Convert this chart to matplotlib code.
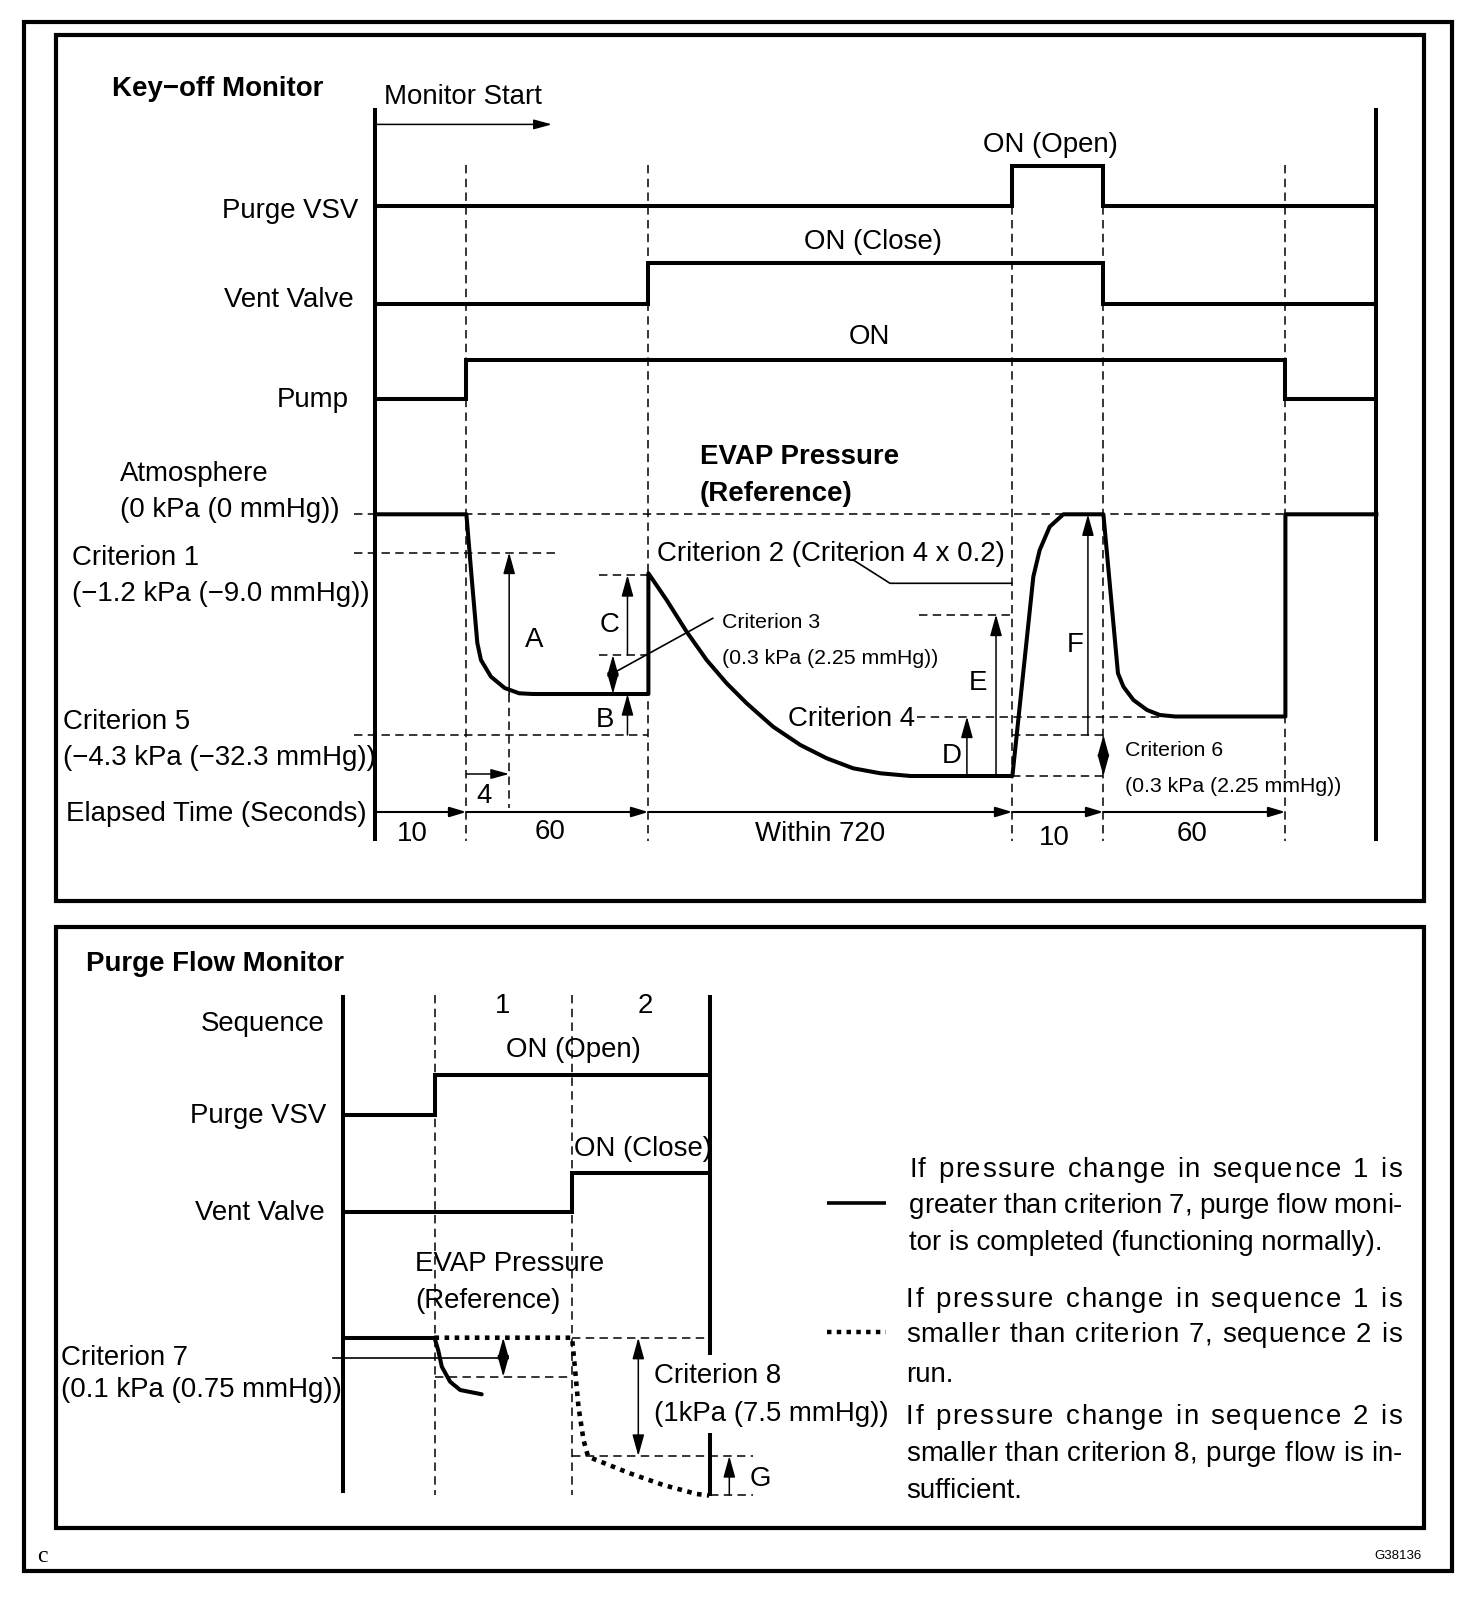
import matplotlib
matplotlib.use("Agg")
import matplotlib.pyplot as plt
from matplotlib.patches import Rectangle

plt.rcParams['font.family'] = ['Liberation Sans', 'DejaVu Sans']

W, H = 1472, 1600
FS = 19.9        # main label size (pt)
FS_SMALL = 15.3  # criterion 3 / 6 notes
THICK = 2.9      # signal / trace width (pt)
THIN = 1.1
DASH = (0, (5.5, 3.5))
DY = 3           # baseline nudge for centred labels

# ---------------- Key-off monitor (schematic time units, level units) ----------------
ko_grid = [1, 3, 7, 8, 10]
ko_span_labels = ["10", "60", "Within 720", "10", "60"]

purge_vsv_t = [0, 7, 7, 8, 8, 11]
purge_vsv_on = [0, 0, 1, 1, 0, 0]
vent_t = [0, 3, 3, 8, 8, 11]
vent_on = [0, 0, 1, 1, 0, 0]
pump_t = [0, 1, 1, 10, 10, 11]
pump_on = [0, 0, 1, 1, 0, 0]

press_t = [0, 1.0, 1.06, 1.12, 1.16, 1.27, 1.42, 1.58, 1.73, 3.0, 3.0,
           3.2, 3.42, 3.64, 3.86, 4.08, 4.37, 4.67, 4.96, 5.25, 5.55, 5.88,
           7.0, 7.23, 7.3, 7.41, 7.56, 8.0, 8.16, 8.22, 8.33, 8.48, 8.62, 8.79,
           10.0, 10.0, 11.0]
press_lv = [0, 0, -6.57, -12.87, -14.57, -16.24, -17.37, -17.9, -17.97, -17.97, -5.9,
            -8.57, -11.74, -14.57, -16.9, -18.9, -21.24, -23.07, -24.4, -25.4, -25.9, -26.17,
            -26.17, -6.24, -3.57, -1.24, 0, 0, -15.9, -17.24, -18.57, -19.57, -20.07, -20.22,
            -20.22, 0, 0]

ATM = 0.0
CRIT1 = -3.82
C_TOP = -6.07
CRIT3 = -14.07
FLAT1 = -17.97
CRIT5 = -22.07
E_TOP = -10.02
CRIT4 = -20.22
BOTTOM = -26.17
CRIT6 = -22.07

# ---------------- Purge flow monitor ----------------
pf_purge_t = [0, 2, 2, 8]
pf_purge_on = [0, 0, 1, 1]
pf_vent_t = [0, 5, 5, 8]
pf_vent_on = [0, 0, 1, 1]
pf_base_t = [0, 2]
pf_base_lv = [0, 0]
normal_t = [2.0, 2.08, 2.16, 2.34, 2.56, 3.03]
normal_lv = [0, -1.23, -2.9, -4.4, -5.23, -5.66]
slow_t = [2.0, 5.0, 5.06, 5.14, 5.25, 5.35, 6.26, 6.99, 7.72, 7.99]
slow_lv = [0, 0, -2.9, -6.9, -10.23, -11.9, -13.56, -14.73, -15.63, -15.78]
PF_CRIT7 = -3.9
PF_CRIT8 = -11.83
PF_BOTTOM = -15.73

notes = [
    ("If pressure change in sequence 1 is", True),
    ("greater than criterion 7, purge flow moni-", True),
    ("tor is completed (functioning normally).", False),
    ("If pressure change in sequence 1 is", True),
    ("smaller than criterion 7, sequence 2 is", True),
    ("run.", False),
    ("If pressure change in sequence 2 is", True),
    ("smaller than criterion 8, purge flow is in-", True),
    ("sufficient.", False),
]
notes_y = [1167, 1203, 1240, 1297, 1332, 1372, 1414, 1451, 1488]
notes_x0 = [909, 909, 909, 906, 906, 906, 906, 906, 906]

fig = plt.figure(figsize=(W / 100, H / 100), dpi=100)
bg = fig.add_axes([0, 0, 1, 1])
bg.set_xlim(0, W)
bg.set_ylim(H, 0)
bg.axis('off')


def overlay(x0, ux, y0, uy):
    a = fig.add_axes([0, 0, 1, 1])
    a.patch.set_alpha(0)
    a.axis('off')
    a.set_xlim(-x0 / ux, (W - x0) / ux)
    a.set_ylim((y0 - H) / uy, y0 / uy)
    return a


ax1 = overlay(375.4, 91.0, 514.3, 10.0)
ax2 = overlay(342.8, 45.85, 1337.7, 10.0)


def thick(ax, x, y, **kw):
    ax.plot(x, y, color='k', lw=THICK, solid_joinstyle='miter', solid_capstyle='butt', **kw)


def dashed(ax, x, y, lw=THIN):
    ax.plot(x, y, color='k', lw=lw, linestyle=DASH)


def thin(ax, x, y):
    ax.plot(x, y, color='k', lw=1.2)


def arrow(ax, p0, p1, style='-|>', hl=0.65, hw=0.18, lw=THIN):
    ax.annotate('', xy=p1, xytext=p0,
                arrowprops=dict(arrowstyle=f'{style},head_length={hl},head_width={hw}',
                                lw=lw, color='k', shrinkA=0, shrinkB=0, mutation_scale=20))


def txt(x, y, s, ha='left', size=FS, bold=False, **kw):
    return bg.text(x, y + DY, s, ha=ha, va='center', fontsize=size,
                   fontweight='bold' if bold else 'normal', **kw)


def signal(ax, t, on, base, amp):
    thick(ax, t, [base + amp * s for s in on])


# frames
for (x, y, w, h) in [(24, 22, 1428, 1549), (56, 35, 1368, 866), (56, 927, 1368, 601)]:
    bg.add_patch(Rectangle((x, y), w, h, fill=False, lw=3.0, ec='k', joinstyle='miter'))

# ================= Key-off monitor =================
thick(ax1, [0, 0], [40.6, -32.7])
thick(ax1, [11, 11], [40.6, -32.7])
for t in ko_grid:
    dashed(ax1, [t, t], [34.9, -32.7])

signal(ax1, purge_vsv_t, purge_vsv_on, 30.8, 4.0)
signal(ax1, vent_t, vent_on, 21.0, 4.1)
signal(ax1, pump_t, pump_on, 11.5, 3.95)

# reference dashed levels
dashed(ax1, [-0.235, 10], [ATM, ATM])
dashed(ax1, [-0.235, 2.0], [CRIT1, CRIT1])
dashed(ax1, [-0.235, 3.0], [CRIT5, CRIT5])
dashed(ax1, [2.46, 3.0], [C_TOP, C_TOP])
dashed(ax1, [2.46, 3.0], [CRIT3, CRIT3])
dashed(ax1, [5.97, 7.0], [E_TOP, E_TOP])
dashed(ax1, [5.95, 8.62], [CRIT4, CRIT4])
dashed(ax1, [7.0, 8.0], [CRIT6, CRIT6])
dashed(ax1, [7.0, 8.0], [BOTTOM, BOTTOM])
dashed(ax1, [1.47, 1.47], [FLAT1, -29.4])

ax1.plot(press_t, press_lv, color='k', lw=THICK, solid_joinstyle='round')

# arrows
arrow(ax1, (1.47, FLAT1), (1.47, CRIT1))
arrow(ax1, (2.77, CRIT3), (2.77, C_TOP))
arrow(ax1, (2.61, CRIT3), (2.61, FLAT1), style='<|-|>')
arrow(ax1, (2.77, CRIT5), (2.77, FLAT1))
arrow(ax1, (1.0, -25.97), (1.47, -25.97), hl=0.55, hw=0.15)
arrow(ax1, (6.5, BOTTOM), (6.5, CRIT4))
arrow(ax1, (6.82, BOTTOM), (6.82, E_TOP))
arrow(ax1, (7.83, CRIT6), (7.83, ATM))
arrow(ax1, (8.0, CRIT6), (8.0, BOTTOM), style='<|-|>')
arrow(ax1, (0.02, 38.99), (1.94, 38.99), hl=0.55, hw=0.15)

# elapsed time axis
prev = 0
for t in ko_grid:
    arrow(ax1, (prev, -29.77), (t, -29.77), hl=0.5, hw=0.15, lw=1.5)
    prev = t

# leader lines
thin(ax1, [2.61, 3.707], [-15.9, -10.4])
thin(ax1, [5.252, 5.655, 6.992], [-4.57, -6.9, -6.9])

# texts (top panel)
txt(112, 86, "Key\u2212off Monitor", bold=True)
txt(384, 94, "Monitor Start")
txt(358, 208, "Purge VSV", ha='right')
txt(354, 297, "Vent Valve", ha='right')
txt(349, 397, "Pump", ha='right')
txt(1050, 142, "ON (Open)", ha='center')
txt(873, 239, "ON (Close)", ha='center')
txt(869, 334, "ON", ha='center')
txt(700, 454, "EVAP Pressure", bold=True)
txt(700, 491, "(Reference)", bold=True)
txt(120, 471, "Atmosphere")
txt(120, 507, "(0 kPa (0 mmHg))")
txt(72, 555, "Criterion 1")
txt(72, 591, "(\u22121.2 kPa (\u22129.0 mmHg))")
txt(63, 719, "Criterion 5")
txt(63, 755, "(\u22124.3 kPa (\u221232.3 mmHg))")
txt(66, 811, "Elapsed Time (Seconds)")
txt(534, 637, "A", ha='center')
txt(610, 622, "C", ha='center')
txt(605, 717, "B", ha='center')
txt(484, 793, "4", ha='center')
txt(722, 619, "Criterion 3", size=FS_SMALL)
txt(722, 656, "(0.3 kPa (2.25 mmHg))", size=FS_SMALL)
txt(657, 551, "Criterion 2 (Criterion 4 x 0.2)")
txt(915, 716, "Criterion 4", ha='right')
txt(978, 680, "E", ha='center')
txt(952, 753, "D", ha='center')
txt(1075, 642, "F", ha='center')
txt(1125, 747, "Criterion 6", size=FS_SMALL)
txt(1125, 783, "(0.3 kPa (2.25 mmHg))", size=FS_SMALL)
for x, y, s in zip([412, 550, 820, 1054, 1192], [831, 829, 831, 835, 831], ko_span_labels):
    txt(x, y, s, ha='center')

# ================= Purge flow monitor =================
thick(ax2, [0, 0], [34.27, -15.53])
thick(ax2, [8, 8], [34.27, -1.73])
thick(ax2, [8, 8], [-9.53, -15.78])
for t in [2, 5]:
    dashed(ax2, [t, t], [34.27, -15.73])

signal(ax2, pf_purge_t, pf_purge_on, 22.3, 3.94)
signal(ax2, pf_vent_t, pf_vent_on, 12.57, 3.92)

thick(ax2, pf_base_t, pf_base_lv)
ax2.plot(normal_t, normal_lv, color='k', lw=THICK, solid_capstyle='round')
ax2.plot(slow_t, slow_lv, color='k', lw=3.3, linestyle=(0, (1, 1.2)), dash_capstyle='butt')

dashed(ax2, [5, 8], [0, 0])
dashed(ax2, [2, 5], [PF_CRIT7, PF_CRIT7])
dashed(ax2, [5, 8.95], [PF_CRIT8, PF_CRIT8])
dashed(ax2, [8, 8.95], [PF_BOTTOM, PF_BOTTOM])
thin(ax2, [-0.22, 3.575], [-2.0, -2.0])

arrow(ax2, (3.5, 0), (3.5, PF_CRIT7), style='<|-|>')
arrow(ax2, (6.445, 0), (6.445, PF_CRIT8), style='<|-|>')
arrow(ax2, (8.43, PF_BOTTOM), (8.43, PF_CRIT8))

txt(86, 961, "Purge Flow Monitor", bold=True)
txt(325, 1021, "Sequence", ha='right')
txt(503, 1003, "1", ha='center')
txt(645, 1003, "2", ha='center')
txt(573, 1047, "ON (Open)", ha='center')
txt(326, 1113, "Purge VSV", ha='right')
txt(574, 1146, "ON (Close)")
txt(325, 1210, "Vent Valve", ha='right')
txt(415, 1261, "EVAP Pressure")
txt(415, 1298, "(Reference)")
txt(61, 1355, "Criterion 7")
txt(61, 1387, "(0.1 kPa (0.75 mmHg))")
txt(654, 1373, "Criterion 8")
txt(654, 1411, "(1kPa (7.5 mmHg))")
txt(760, 1476, "G", ha='center')

# legend marks
bg.plot([827, 886], [1203, 1203], color='k', lw=2.6, solid_capstyle='butt')
bg.plot([827, 886], [1332, 1332], color='k', lw=3.2, linestyle=(0, (1, 1.2)), dash_capstyle='butt')

# justified notes: extra room shared between letter spacing and word gaps
renderer = fig.canvas.get_renderer()
_wcache = {}


def width(s):
    if s not in _wcache:
        t = bg.text(0, 0, s, fontsize=FS)
        _wcache[s] = t.get_window_extent(renderer).width
        t.remove()
    return _wcache[s]


RIGHT = 1402
LETTER_SHARE = 0.55
for (line, just), y, x0 in zip(notes, notes_y, notes_x0):
    if not just:
        txt(x0, y, line)
        continue
    words = line.split()
    space = width("a b") - width("ab")
    natural = sum(width(w) for w in words) + space * (len(words) - 1)
    extra = RIGHT - x0 - natural
    n_gaps = sum(len(w) - 1 for w in words)
    ls = extra * LETTER_SHARE / n_gaps
    wg = space + extra * (1 - LETTER_SHARE) / (len(words) - 1)
    x = x0
    for w in words:
        for k, ch in enumerate(w):
            txt(x + width(w[:k + 1]) + k * ls, y, ch, ha='right')
        x += width(w) + (len(w) - 1) * ls + wg

bg.text(42, 1553 + DY, "c", ha='center', va='center', fontsize=17, family='Liberation Serif')
txt(1422, 1553, "G38136", ha='right', size=9.5)

fig.savefig("out.png", dpi=100)
